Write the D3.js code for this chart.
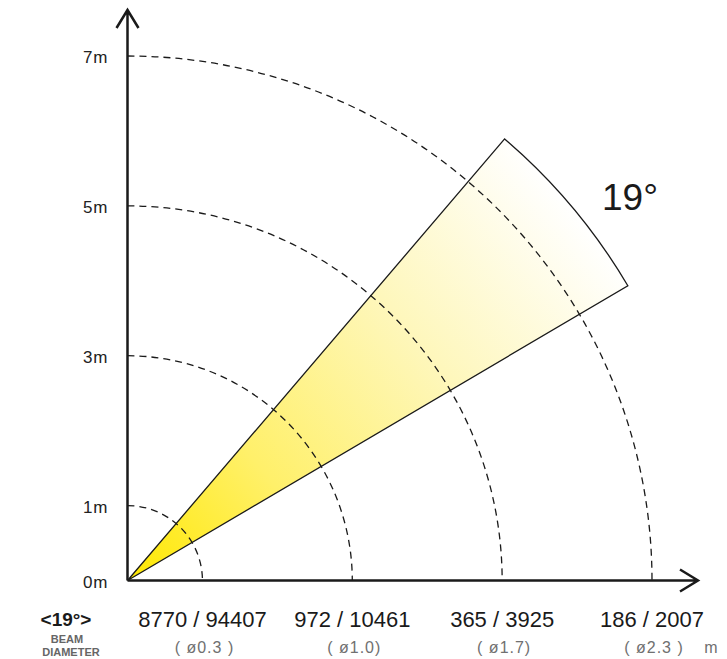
<!DOCTYPE html>
<html lang="en">
<head>
<meta charset="UTF-8">
<title>Beam 19</title>
<script src="https://cdn.jsdelivr.net/npm/d3@7"></script>
<style>
    html, body { margin: 0; padding: 0; background: #fff; }
    svg { display: block; font-family: "Liberation Sans", Arial, sans-serif; }
</style>
</head>
<body>
<script>
// distances (m) with a dashed arc each
const distances = [1, 3, 5, 7]
// y axis labels
const yTicks = [0, 1, 3, 5, 7]
// lux / fc at each distance
const luxFc = ["8770 / 94407", "972 / 10461", "365 / 3925", "186 / 2007"]
// beam diameter at each distance
const diameters = ["( ø0.3 )", "( ø1.0)", "( ø1.7)", "( ø2.3 )"]
const beamAngle = 19      // degrees
const beamCenter = 40     // direction of the beam axis, degrees above x axis
const beamLength = 7.75   // m, how far the drawn wedge goes

const W = 727, H = 659
const origin = {x: 127.5, y: 580.5}

const svg = d3.select("body").append("svg")
    .attr("width", W)
    .attr("height", H)

// metres -> pixels (radius)
const r = d3.scaleLinear().domain([0, 7]).range([0, 524.5])

// polar point, angle in degrees counter-clockwise from x axis
function pt(m, deg) {
    const a = deg * Math.PI / 180
    return [origin.x + r(m) * Math.cos(a), origin.y - r(m) * Math.sin(a)]
}

// gradient along the beam
const defs = svg.append("defs")
const endPt = pt(beamLength, beamCenter)
const grad = defs.append("linearGradient")
    .attr("id", "beam")
    .attr("gradientUnits", "userSpaceOnUse")
    .attr("x1", origin.x).attr("y1", origin.y)
    .attr("x2", endPt[0]).attr("y2", endPt[1])
grad.selectAll("stop")
    .data([[0, "#ffe800"], [0.3, "#fff06a"], [0.65, "#fef7bc"], [1, "#ffffff"]])
    .join("stop")
    .attr("offset", d => d[0])
    .attr("stop-color", d => d[1])

// beam wedge
const a0 = beamCenter - beamAngle / 2, a1 = beamCenter + beamAngle / 2
const wedge = d3.path()
wedge.moveTo(origin.x, origin.y)
wedge.lineTo(...pt(beamLength, a1))
wedge.arc(origin.x, origin.y, r(beamLength), -a1 * Math.PI / 180, -a0 * Math.PI / 180)
wedge.closePath()
svg.append("path")
    .attr("d", wedge.toString())
    .attr("fill", "url(#beam)")
    .attr("stroke", "#1a1a1a")
    .attr("stroke-width", 1.3)
    .attr("stroke-linejoin", "miter")

// dashed distance arcs
svg.selectAll("path.arc")
    .data(distances)
    .join("path")
    .attr("class", "arc")
    .attr("d", d => {
        const p = d3.path()
        p.arc(origin.x, origin.y, r(d), -Math.PI / 2, 0)
        return p.toString()
    })
    .attr("fill", "none")
    .attr("stroke", "#1a1a1a")
    .attr("stroke-width", 1.3)
    .attr("stroke-dasharray", "7,5")

// axes
const yTip = 10, xTip = 698
svg.append("path")
    .attr("d", `M${origin.x},${origin.y}V${yTip}M${origin.x - 11},${yTip + 18}L${origin.x},${yTip}L${origin.x + 11},${yTip + 18}`)
    .attr("fill", "none")
    .attr("stroke", "#1a1a1a")
    .attr("stroke-width", 2.5)
svg.append("path")
    .attr("d", `M${origin.x},${origin.y}H${xTip}M${xTip - 18},${origin.y - 11}L${xTip},${origin.y}L${xTip - 18},${origin.y + 11}`)
    .attr("fill", "none")
    .attr("stroke", "#1a1a1a")
    .attr("stroke-width", 2.5)

// y labels
svg.selectAll("text.ylab")
    .data(yTicks)
    .join("text")
    .attr("class", "ylab")
    .attr("x", origin.x - 19)
    .attr("y", d => origin.y - r(d) + 7)
    .attr("text-anchor", "end")
    .attr("font-size", 17)
    .attr("letter-spacing", 1)
    .attr("fill", "#222")
    .text(d => d + "m")

// beam angle label
svg.append("text")
    .attr("x", 602)
    .attr("y", 210)
    .attr("font-size", 37)
    .attr("fill", "#1a1a1a")
    .text(beamAngle + "°")

// bottom labels
svg.selectAll("text.lux")
    .data(luxFc)
    .join("text")
    .attr("class", "lux")
    .attr("x", (d, i) => origin.x + r(distances[i]))
    .attr("y", 627)
    .attr("text-anchor", "middle")
    .attr("font-size", 22)
    .attr("fill", "#1a1a1a")
    .text(d => d)

svg.selectAll("text.dia")
    .data(diameters)
    .join("text")
    .attr("class", "dia")
    .attr("x", (d, i) => origin.x + r(distances[i]) + 2)
    .attr("y", 653)
    .attr("text-anchor", "middle")
    .attr("font-size", 16)
    .attr("letter-spacing", 1)
    .attr("fill", "#707070")
    .text(d => d)

svg.append("text")
    .attr("x", 711)
    .attr("y", 653)
    .attr("text-anchor", "middle")
    .attr("font-size", 16)
    .attr("fill", "#707070")
    .text("m")

svg.append("text")
    .attr("x", 66)
    .attr("y", 626)
    .attr("text-anchor", "middle")
    .attr("font-size", 19)
    .attr("font-weight", "bold")
    .attr("fill", "#1a1a1a")
    .text(`<${beamAngle}°>`)

svg.selectAll("text.bd")
    .data(["BEAM", "DIAMETER"])
    .join("text")
    .attr("class", "bd")
    .attr("x", (d, i) => i ? 71 : 67)
    .attr("y", (d, i) => 643 + i * 13)
    .attr("text-anchor", "middle")
    .attr("font-size", 11)
    .attr("font-weight", "bold")
    .attr("fill", "#666")
    .text(d => d)
</script>
</body>
</html>
